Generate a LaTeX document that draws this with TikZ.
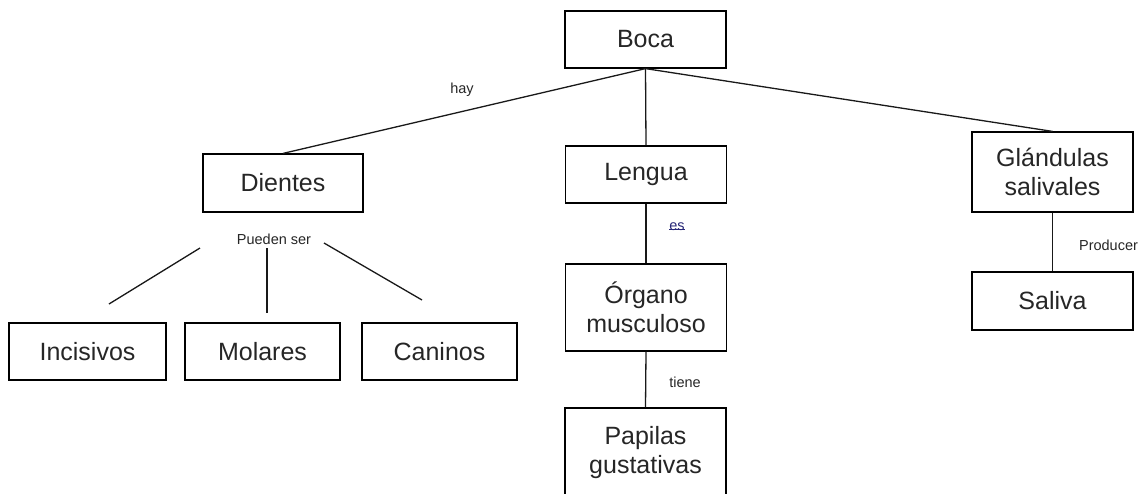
\documentclass[tikz,border=0pt]{standalone}
\usepackage{fontspec}
\setmainfont{Liberation Sans}
\definecolor{esblue}{RGB}{40,40,120}
\begin{document}
\begin{tikzpicture}[x=1pt,y=-1pt,
  box/.style={draw=black, line width=1.2pt, rectangle, inner sep=0pt, align=center,
    font=\fontsize{25}{29}\selectfont, text=black!85},
  lbl/.style={inner sep=0pt, font=\fontsize{14.5}{17}\selectfont, text=black!85},
  conn/.style={line width=1.3pt, draw=black!90}]
\useasboundingbox (0,0) rectangle (1139,493);
\clip (0,0) rectangle (1139,493);
\node[box, minimum width=161pt, minimum height=57pt] (boca) at (645.5,39.5) {Boca};
\node[box, minimum width=160pt, minimum height=58pt] (dientes) at (283,183) {Dientes};
\node[box, minimum width=161pt, minimum height=57pt] (lengua) at (646,174.5) {Lengua};
\node[box, minimum width=161pt, minimum height=80pt] (glandulas) at (1052.5,172) {Glándulas\\salivales};
\node[box, minimum width=161pt, minimum height=87pt] (organo) at (646,307.5) {Órgano\\musculoso};
\node[box, minimum width=161pt, minimum height=90pt] (papilas) at (645.5,453) {Papilas\\gustativas};
\node[box, minimum width=161pt, minimum height=58pt] (saliva) at (1052.5,301) {Saliva};
\node[box, minimum width=157pt, minimum height=57pt] (incisivos) at (87.5,351.5) {Incisivos};
\node[box, minimum width=155pt, minimum height=57pt] (molares) at (262.5,351.5) {Molares};
\node[box, minimum width=155pt, minimum height=57pt] (caninos) at (439.5,351.5) {Caninos};

\draw[conn] (boca.south) -- (dientes.north);
\draw[conn] (boca.south) -- (lengua.north);
\draw[conn] (boca.south) -- (glandulas.north);
\draw[conn] (lengua.south) -- (organo.north);
\draw[conn] (organo.south) -- (papilas.north);
\draw[conn] (glandulas.south) -- (saliva.north);

\node[lbl] (hay) at (462,90) {hay};
\node[lbl] (pueden) at (274,239) {Pueden ser};
\node[lbl, text=esblue] (es) at (677,227) {es};
\draw[esblue, line width=0.7pt] ([yshift=1.5pt]es.south west) -- ([yshift=1.5pt]es.south east);
\node[lbl] (tiene) at (685,382) {tiene};
\node[lbl] (producer) at (1108.5,245) {Producer};

\coordinate (l1a) at (200,248);
\coordinate (l1b) at (109,304);
\coordinate (l2a) at (267,248);
\coordinate (l2b) at (267,313);
\coordinate (l3a) at (324,243);
\coordinate (l3b) at (422,300);
\draw[conn] (l1a) -- (l1b);
\draw[conn] (l2a) -- (l2b);
\draw[conn] (l3a) -- (l3b);
\end{tikzpicture}
\end{document}
